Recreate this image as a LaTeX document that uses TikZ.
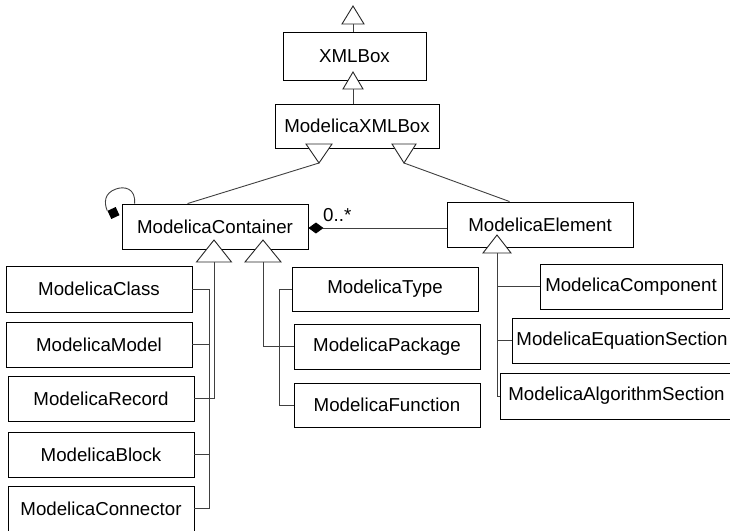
\documentclass[tikz,border=0pt]{standalone}
\usepackage{fontspec}
\setmainfont{Liberation Sans}
\usetikzlibrary{calc,arrows.meta}
\begin{document}
\begin{tikzpicture}[x=1pt,y=-1pt,
  box/.style={draw=black, line width=0.9pt, fill=white, minimum height=45pt, minimum width=186pt, inner sep=0pt, font=\fontsize{18.7}{20}\selectfont},
  conn/.style={draw=black!75, line width=0.9pt},
  tri/.style={draw=black!85, line width=0.9pt, fill=white, line join=miter}]
\useasboundingbox (0,0) rectangle (730,530);

% class boxes
\node[box, minimum width=143pt, minimum height=48pt] (xml) at (354.5,56) {XMLBox};
\node[box, minimum width=164pt, minimum height=44pt] (mxml) at (357,126) {ModelicaXMLBox};
\node[box] (cont) at (215,226.5) {ModelicaContainer};
\node[box] (elem) at (540,224.5) {ModelicaElement};
\node[box, minimum height=46pt] (cls) at (99,289) {ModelicaClass};
\node[box] (mdl) at (99,344.5) {ModelicaModel};
\node[box] (rec) at (101,398.5) {ModelicaRecord};
\node[box] (blk) at (101,454.5) {ModelicaBlock};
\node[box] (con) at (101,508.5) {ModelicaConnector};
\node[box, minimum height=44pt] (typ) at (385,289) {ModelicaType};
\node[box] (pkg) at (387,346.5) {ModelicaPackage};
\node[box, minimum height=44pt] (fun) at (387,405) {ModelicaFunction};
\node[box, minimum width=182pt] (comp) at (631,286.5) {ModelicaComponent};
\node[box, minimum width=220pt] (eqs) at (622,340.5) {ModelicaEquationSection};
\node[box, minimum width=233pt, minimum height=46pt] (alg) at (616.5,396) {ModelicaAlgorithmSection};

% triangle apexes
\coordinate (a0) at (353,6);
\coordinate (a1) at (353,72);
\coordinate (b1) at (319,163);
\coordinate (b2) at (404,163);
\coordinate (c1) at (214,240);
\coordinate (c2) at (263,240);
\coordinate (e1) at (497,235);
\coordinate (v1) at (209,0);
\coordinate (v2) at (279,0);
\coordinate (v3) at (497,0);

% generalisation lines
\draw[conn] (a0 |- xml.north) -- ($(a0)+(0,18)$);
\draw[conn] (a1 |- mxml.north) -- ($(a1)+(0,17)$);
\draw[conn] (b1) -- ($(cont.north west)+(66,0)$);
\draw[conn] (b2) -- ($(elem.north west)+(63,0)$);

\draw[conn] ($(c1)+(0,22)$) |- (rec.east);
\draw[conn] (cls.east) -| (v1 |- con.east) -- (con.east);
\draw[conn] (mdl.east) -- (v1 |- mdl.east);
\draw[conn] (blk.east) -- (v1 |- blk.east);

\draw[conn] ($(c2)+(0,22)$) |- (pkg.west);
\draw[conn] (typ.west) -| (v2 |- fun.west) -- (fun.west);

\draw[conn] ($(e1)+(0,18)$) |- (alg.west);
\draw[conn] (comp.west) -- (v3 |- comp.west);
\draw[conn] (eqs.west) -- (v3 |- eqs.west);

% triangles
\draw[tri] (a0) -- ++(-11,18) -- ++(22,0) -- cycle;
\draw[tri] (a1) -- ++(-10,17) -- ++(20,0) -- cycle;
\draw[tri] (b1) -- ++(-13,-19) -- ++(26,0) -- cycle;
\draw[tri] (b2) -- ++(-12,-19) -- ++(24,0) -- cycle;
\draw[tri] (c1) -- ++(-17.5,22) -- ++(35,0) -- cycle;
\draw[tri] (c2) -- ++(-18,22) -- ++(36,0) -- cycle;
\draw[tri] (e1) -- ++(-14,18) -- ++(28,0) -- cycle;

% association
\coordinate (as) at ($(cont.east)+(0,1.5)$);
\draw[conn, {Diamond[length=15pt,width=11pt,black]}-] (as) -- (as -| elem.west);
\node[anchor=base west, inner sep=0pt, font=\fontsize{18.7}{20}\selectfont] (mult) at (323,221) {0..*};

% self loop
\coordinate (l0) at ($(cont.north west)+(13,0)$);
\node[fill=black, minimum size=9pt, inner sep=0pt, rotate=25] (sq) at (113.5,213) {};
\draw[conn] (l0) .. controls (136,188) and (124,186) .. (116,189) .. controls (104,193) and (104,203) .. (sq.north west);
\end{tikzpicture}
\end{document}
